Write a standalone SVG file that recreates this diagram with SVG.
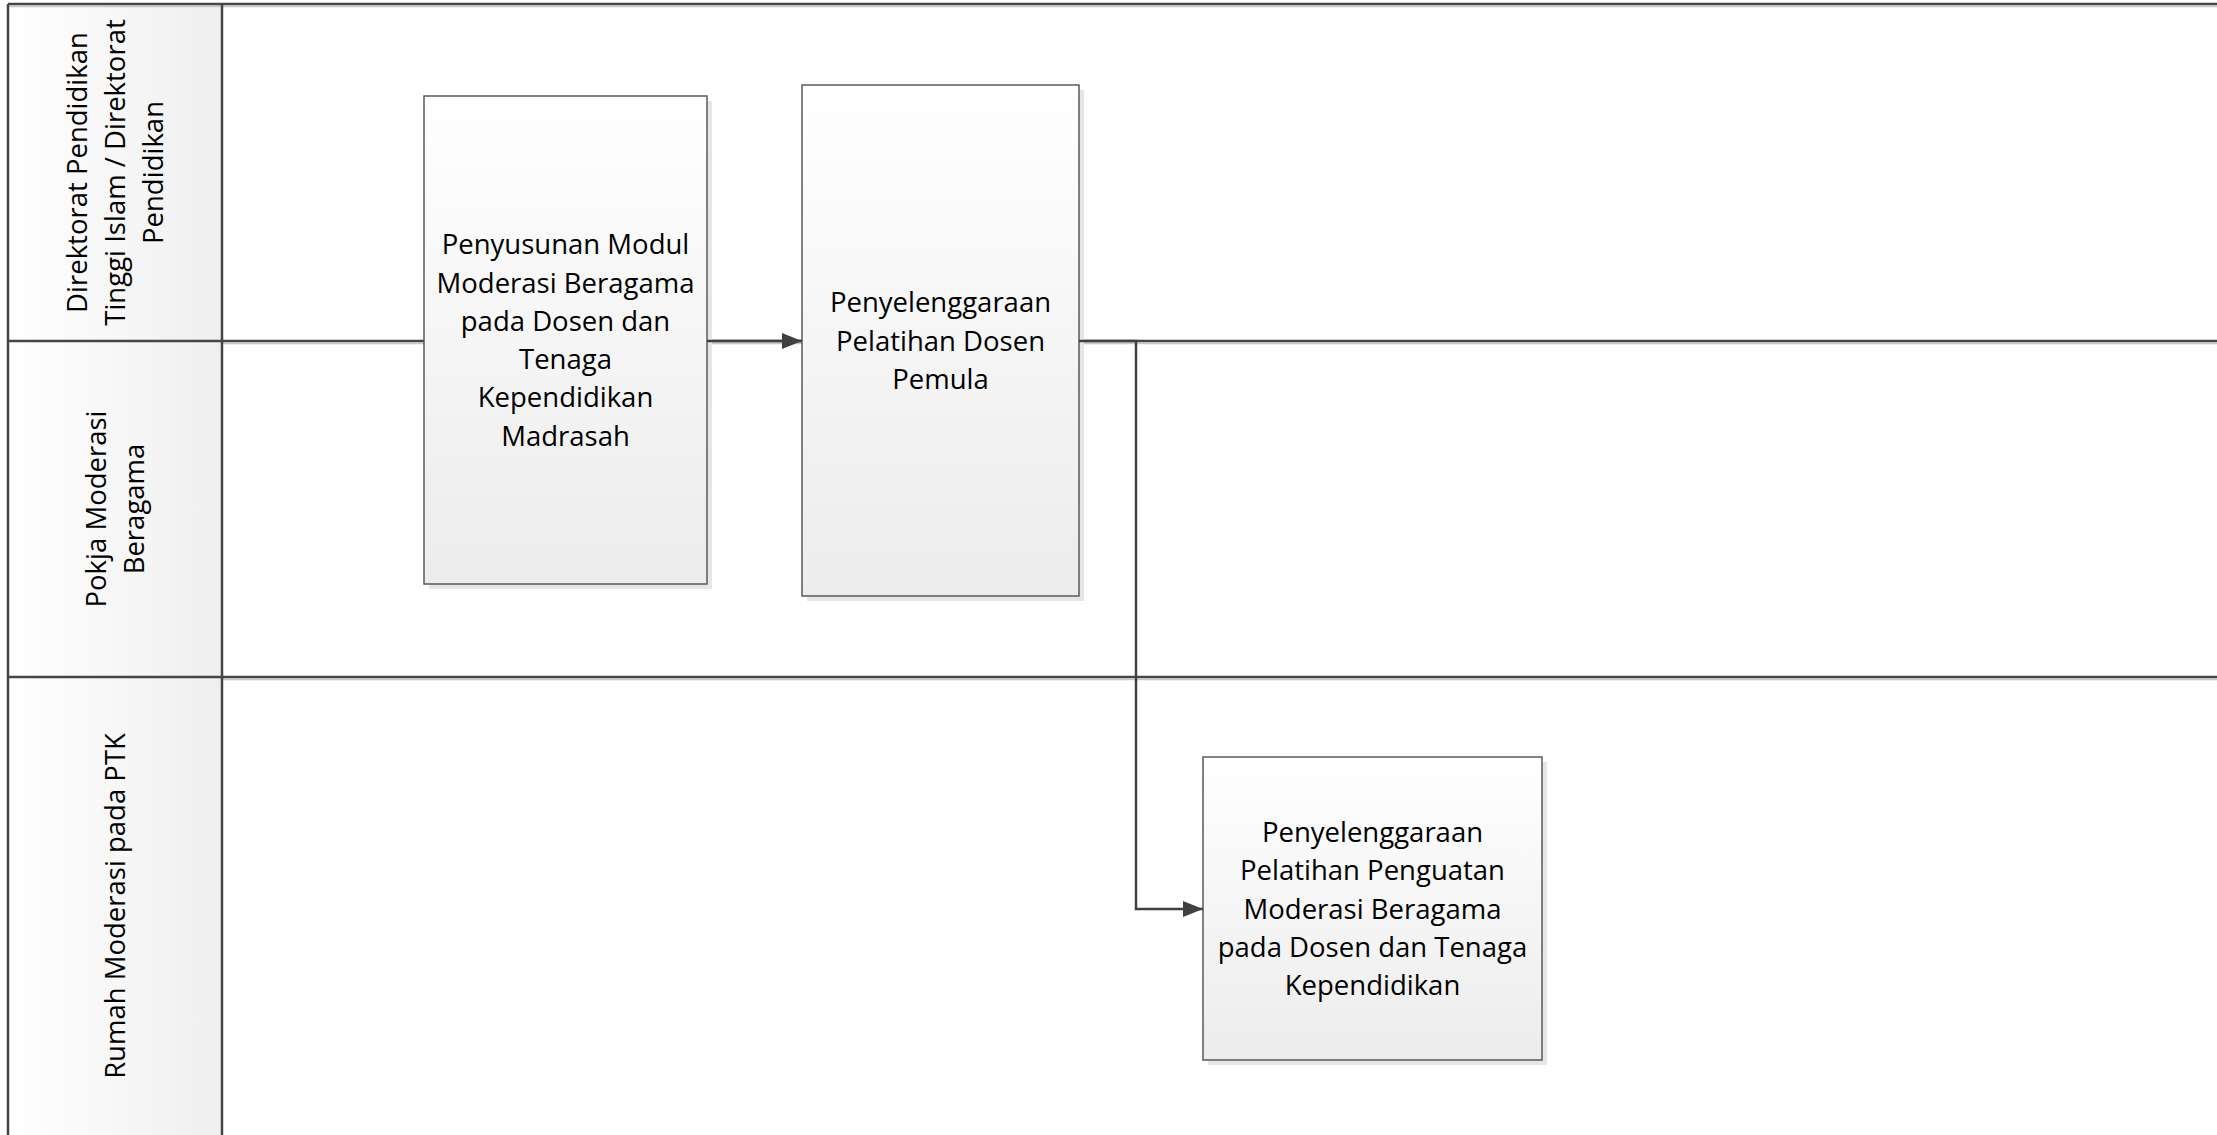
<svg xmlns="http://www.w3.org/2000/svg" width="2217" height="1135" viewBox="0 0 2217 1135">
<style>
.lane{stroke:#454545;stroke-width:2.5;fill:none}
.lshadow{stroke:#c8c8c8;stroke-width:1.5;fill:none}
.box{fill:url(#boxg);stroke:#5a5a5a;stroke-width:1.5}
.shadow{fill:#e6e6e6}
.txt{font-family:"Open Sans","Noto Sans","DejaVu Sans",sans-serif;font-size:27.5px;fill:#000;text-anchor:middle}
.conn{stroke:#404040;stroke-width:2.5;fill:none}
</style>
<defs>
<linearGradient id="boxg" x1="0" y1="0" x2="0" y2="1">
<stop offset="0" stop-color="#ffffff"/>
<stop offset="1" stop-color="#ececec"/>
</linearGradient>
<linearGradient id="hdrg" x1="0" y1="0" x2="1" y2="0">
<stop offset="0" stop-color="#ffffff"/>
<stop offset="1" stop-color="#efefef"/>
</linearGradient>
<marker id="arr" markerUnits="userSpaceOnUse" markerWidth="22" markerHeight="18" refX="20" refY="8" orient="auto">
<path d="M0,0 L20,8 L0,16 Z" fill="#404040"/>
</marker>
</defs>
<rect x="0" y="0" width="2217" height="1135" fill="#ffffff"/>

<g id="lanes">
<rect x="8" y="4" width="214" height="1131" fill="url(#hdrg)"/>
<line class="lshadow" x1="8" y1="6.5" x2="2217" y2="6.5"/>
<line class="lshadow" x1="222" y1="343.5" x2="2217" y2="343.5"/>
<line class="lshadow" x1="222" y1="679.5" x2="2217" y2="679.5"/>
<line class="lane" x1="8" y1="4" x2="2217" y2="4"/>
<line class="lane" x1="8" y1="341" x2="2217" y2="341"/>
<line class="lane" x1="8" y1="677" x2="2217" y2="677"/>
<line class="lane" x1="8" y1="4" x2="8" y2="1135"/>
<line class="lane" x1="222" y1="4" x2="222" y2="1135"/>
<g id="lane1-label" class="txt">
<text transform="translate(76.7,172.5) rotate(-90)" x="0" y="10">Direktorat Pendidikan</text>
<text transform="translate(115,172.5) rotate(-90)" x="0" y="10">Tinggi Islam / Direktorat</text>
<text transform="translate(153.3,172.5) rotate(-90)" x="0" y="10">Pendidikan</text>
</g>
<g id="lane2-label" class="txt">
<text transform="translate(95.9,509) rotate(-90)" x="0" y="10">Pokja Moderasi</text>
<text transform="translate(134.1,509) rotate(-90)" x="0" y="10">Beragama</text>
</g>
<g id="lane3-label" class="txt">
<text transform="translate(115,906) rotate(-90)" x="0" y="10">Rumah Moderasi pada PTK</text>
</g>
</g>

<g id="node1">
<rect class="shadow" x="429" y="101" width="283" height="488"/>
<rect class="box" x="424" y="96" width="283" height="488"/>
<g class="txt">
<text x="565.5" y="254.3">Penyusunan Modul</text>
<text x="565.5" y="292.6">Moderasi Beragama</text>
<text x="565.5" y="330.9">pada Dosen dan</text>
<text x="565.5" y="369.1">Tenaga</text>
<text x="565.5" y="407.4">Kependidikan</text>
<text x="565.5" y="445.7">Madrasah</text>
</g>
</g>

<g id="node2">
<rect class="shadow" x="807" y="90" width="277" height="511"/>
<rect class="box" x="802" y="85" width="277" height="511"/>
<g class="txt">
<text x="940.5" y="312.2">Penyelenggaraan</text>
<text x="940.5" y="350.5">Pelatihan Dosen</text>
<text x="940.5" y="388.8">Pemula</text>
</g>
</g>

<g id="node3">
<rect class="shadow" x="1208" y="762" width="339" height="303"/>
<rect class="box" x="1203" y="757" width="339" height="303"/>
<g class="txt">
<text x="1372.5" y="841.9">Penyelenggaraan</text>
<text x="1372.5" y="880.2">Pelatihan Penguatan</text>
<text x="1372.5" y="918.5">Moderasi Beragama</text>
<text x="1372.5" y="956.8">pada Dosen dan Tenaga</text>
<text x="1372.5" y="995.1">Kependidikan</text>
</g>
</g>

<g id="connectors">
<path class="conn" d="M707,341 L802,341" marker-end="url(#arr)"/>
<path class="conn" d="M1079,341 L1136,341 L1136,909 L1203,909" marker-end="url(#arr)"/>
</g>
</svg>
